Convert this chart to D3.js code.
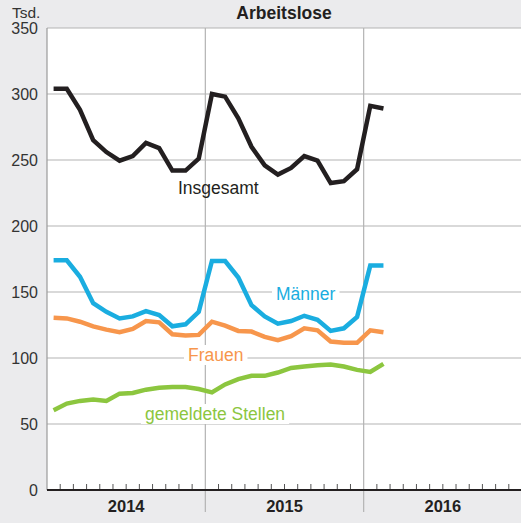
<!DOCTYPE html>
<html>
<head>
<meta charset="utf-8">
<script src="https://cdn.jsdelivr.net/npm/d3@7"></script>
<style>
  body { margin: 0; background: #ebebed; }
  svg { display: block; font-family: "Liberation Sans", Arial, sans-serif; }
</style>
</head>
<body>
<svg id="chart" width="521" height="523"></svg>
<script>
// monthly values, Jan 2014 - Feb 2016 (in thousands)
var insgesamt = [304, 304, 288, 265, 256, 249.5, 253, 263, 259, 242, 242, 251,
                 300, 298, 281.5, 260, 246, 239, 244, 253, 249.5, 232.5, 234, 243, 291, 289];
var maenner = [174, 174, 161.5, 141.5, 135, 130, 131.5, 135.5, 132.5, 124, 125.5, 135,
               173.5, 173.5, 161, 140, 131.5, 126, 128, 132, 129, 120.5, 122.5, 131, 170, 170];
var frauen = [130.5, 130, 127.5, 124, 121.5, 119.5, 122, 128, 127, 118, 117, 117.5,
              127.5, 124.5, 120.5, 120, 116, 113.5, 116.5, 122.5, 121, 112.5, 111.5, 111.5, 121, 119.5];
var stellen = [60.5, 65.5, 67.5, 68.5, 67.5, 73, 73.5, 76, 77.5, 78, 78, 76.5,
               74, 80, 84, 86.5, 86.5, 89, 92.5, 93.5, 94.5, 95, 93.5, 91, 89.5, 95.5];
var years = ["2014", "2015", "2016"];
var yTicks = [0, 50, 100, 150, 200, 250, 300, 350];

var series = [
  { name: "Insgesamt", values: insgesamt, color: "#231f20", lx: 178, ly: 194, bg: false },
  { name: "Männer", values: maenner, color: "#1aade0", lx: 276, ly: 300, bg: true },
  { name: "Frauen", values: frauen, color: "#f7964c", lx: 188, ly: 361, bg: true },
  { name: "gemeldete Stellen", values: stellen, color: "#8cc63f", lx: 145, ly: 420, bg: true }
];

var svg = d3.select("#chart");
var plotL = 47, plotR = 522, plotT = 28, plotB = 490;

var x = d3.scaleLinear().domain([0, 36]).range([plotL, plotR]);
var y = d3.scaleLinear().domain([0, 350]).range([plotB, plotT]);

// plot background
svg.append("rect")
  .attr("x", plotL).attr("y", plotT)
  .attr("width", plotR - plotL).attr("height", plotB - plotT)
  .attr("fill", "#fff");

// horizontal grid
svg.append("g").selectAll("line")
  .data(yTicks.filter(function(d) { return d > 0; }))
  .enter().append("line")
  .attr("x1", plotL).attr("x2", plotR)
  .attr("y1", function(d) { return y(d); })
  .attr("y2", function(d) { return y(d); })
  .attr("stroke", "#b3b3b3").attr("stroke-width", 1.2);

// year separators
svg.append("g").selectAll("line")
  .data([12, 24])
  .enter().append("line")
  .attr("x1", function(d) { return x(d); })
  .attr("x2", function(d) { return x(d); })
  .attr("y1", plotT).attr("y2", 512)
  .attr("stroke", "#b3b3b3").attr("stroke-width", 1.2);

// left axis line
svg.append("line")
  .attr("x1", plotL).attr("x2", plotL)
  .attr("y1", plotT).attr("y2", plotB)
  .attr("stroke", "#9a9a9a").attr("stroke-width", 1.2);

// month ticks
svg.append("g").selectAll("line")
  .data(d3.range(1, 36).filter(function(d) { return d % 12 != 0; }))
  .enter().append("line")
  .attr("x1", function(d) { return x(d); })
  .attr("x2", function(d) { return x(d); })
  .attr("y1", plotB).attr("y2", plotB - 6)
  .attr("stroke", "#555").attr("stroke-width", 1);

// baseline
svg.append("line")
  .attr("x1", plotL).attr("x2", plotR)
  .attr("y1", plotB).attr("y2", plotB)
  .attr("stroke", "#231f20").attr("stroke-width", 2.2);

// y tick labels
svg.append("g").selectAll("text")
  .data(yTicks)
  .enter().append("text")
  .attr("x", 38)
  .attr("y", function(d) { return y(d) + 6; })
  .attr("text-anchor", "end")
  .attr("font-size", 16)
  .attr("fill", "#333")
  .text(function(d) { return d; });

svg.append("text")
  .attr("x", 12).attr("y", 18)
  .attr("font-size", 15.5).attr("fill", "#333")
  .text("Tsd.");

svg.append("text")
  .attr("x", 284).attr("y", 19)
  .attr("text-anchor", "middle")
  .attr("font-size", 17.5).attr("font-weight", "bold").attr("fill", "#231f20")
  .text("Arbeitslose");

// year labels
svg.append("g").selectAll("text")
  .data(years)
  .enter().append("text")
  .attr("x", function(d, i) { return x(i * 12 + 6); })
  .attr("y", 512)
  .attr("text-anchor", "middle")
  .attr("font-size", 16.5).attr("font-weight", "bold").attr("fill", "#231f20")
  .text(function(d) { return d; });

// series labels (with white knock-out behind)
series.forEach(function(s) {
  var g = svg.append("g");
  var bgRect = g.append("rect").attr("fill", "#fff");
  var t = g.append("text")
    .attr("x", s.lx).attr("y", s.ly)
    .attr("font-size", 17.5)
    .attr("fill", s.color)
    .text(s.name);
  if (s.bg) {
    var b = t.node().getBBox();
    bgRect.attr("x", b.x - 4).attr("y", b.y)
      .attr("width", b.width + 8).attr("height", b.height);
  } else {
    bgRect.remove();
  }
});

// lines
var line = d3.line()
  .x(function(d, i) { return x(i + 0.5); })
  .y(function(d) { return y(d); });

svg.append("g").selectAll("path")
  .data(series)
  .enter().append("path")
  .attr("d", function(s) { return line(s.values); })
  .attr("fill", "none")
  .attr("stroke", function(s) { return s.color; })
  .attr("stroke-width", 4.5)
  .attr("stroke-linejoin", "miter");
</script>
</body>
</html>
